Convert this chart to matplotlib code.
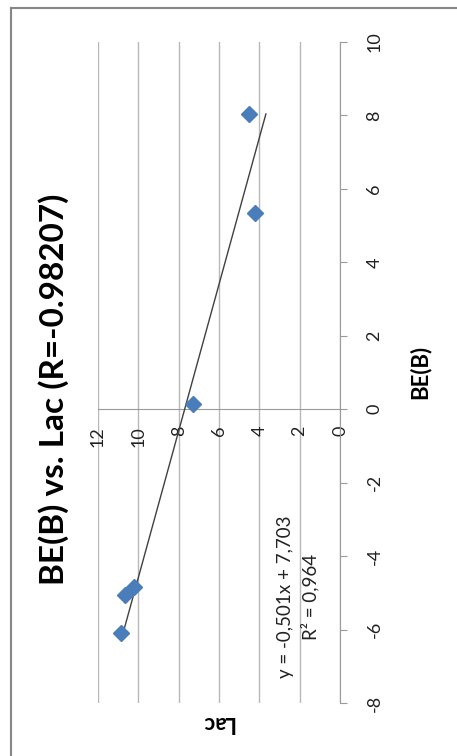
import matplotlib
matplotlib.use("Agg")
import matplotlib.pyplot as plt
from matplotlib.lines import Line2D
import numpy as np

# Data (BE(B) on the chart's x axis, Lac on its y axis; the whole chart is shown rotated)
be_values = [8.04, 5.33, 0.15, -4.85, -5.05, -6.10]
lac_values = [4.53, 4.20, 7.30, 10.20, 10.65, 10.85]
slope, intercept = -0.501, 7.703
equation_text = "y = -0,501x + 7,703\nR² = 0,964"
title_text = "BE(B) vs. Lac (R=-0.98207)"
be_ticks = [-8, -6, -4, -2, 0, 2, 4, 6, 8, 10]
lac_ticks = [0, 2, 4, 6, 8, 10, 12]

FONT = ["Lato", "DejaVu Sans"]
plt.rcParams["font.family"] = FONT
plt.rcParams["axes.unicode_minus"] = False

W, H = 457, 756
fig = plt.figure(figsize=(W / 100, H / 100), dpi=100)

# outer chart border (left and top visible)
fig.add_artist(Line2D([11 / W, 11 / W], [0, 1 - 8 / H], transform=fig.transFigure,
                      color="#868686", lw=1.5))
fig.add_artist(Line2D([11 / W, 1], [1 - 8 / H, 1 - 8 / H], transform=fig.transFigure,
                      color="#868686", lw=1.5))

left, right, top, bottom = 98, 340, 42, 703
ax = fig.add_axes([left / W, 1 - bottom / H, (right - left) / W, (bottom - top) / H])

# horizontal axis = Lac (inverted), vertical axis = BE(B)
ax.set_xlim(12, 0)
ax.set_ylim(-8, 10)

ax.set_xticks(lac_ticks)
ax.set_yticks(be_ticks)
ax.grid(axis="x", color="#b8b8b8", lw=1)
ax.set_axisbelow(True)

for s in ["left", "top"]:
    ax.spines[s].set_visible(False)
ax.spines["right"].set_color("#9a9a9a")
ax.spines["bottom"].set_position(("data", 0))
ax.spines["bottom"].set_color("#9a9a9a")

ax.yaxis.tick_right()
ax.tick_params(axis="y", direction="out", length=5, color="#9a9a9a", pad=14,
               labelsize=13, labelcolor="#222222", labelrotation=90)
ax.tick_params(axis="x", length=0, pad=12, labelsize=13, labelcolor="#222222",
               labelrotation=90)
for lbl in ax.get_yticklabels():
    lbl.set_verticalalignment("center")

# trendline over data range
be_arr = np.array(be_values)
be_line = np.array([be_arr.min(), be_arr.max()])
lac_line = slope * be_line + intercept
ax.plot(lac_line, be_line, color="#404040", lw=1, zorder=3)

ax.plot(lac_values, be_values, linestyle="none", marker="D", markersize=8,
        color="#4a7ebb", markeredgecolor="#4a7ebb", zorder=4)

ax.text(298 / W, 1 - 597 / H, equation_text, transform=fig.transFigure, rotation=90,
        ha="center", va="center", fontsize=13.5, color="#222222", linespacing=1.45,
        multialignment="center")

fig.text(54 / W, 1 - 389 / H, title_text, rotation=90, ha="center", va="center",
         fontsize=24, fontweight="bold", color="black")
fig.text(420 / W, 1 - 372 / H, "BE(B)", rotation=90, ha="center", va="center",
         fontsize=16, fontweight="bold", color="black")
fig.text(218 / W, 1 - 722 / H, "Lac", rotation=180, ha="center", va="center",
         fontsize=16, fontweight="bold", color="black")

fig.savefig("out.png", dpi=100)
